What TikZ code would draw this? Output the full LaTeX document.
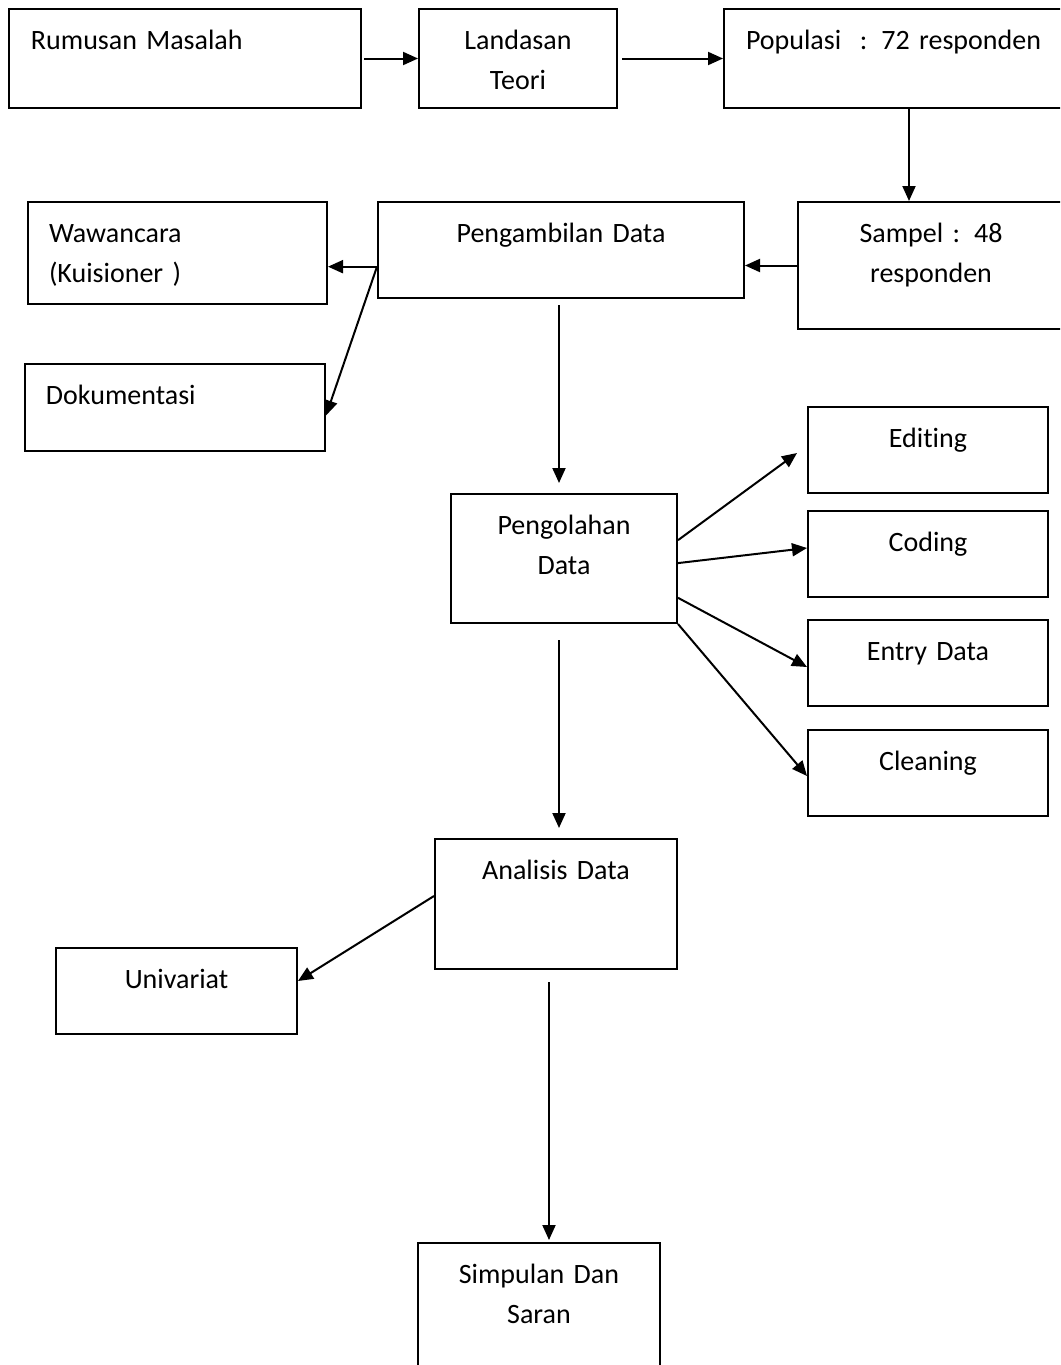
\documentclass[tikz,border=0pt]{standalone}
\usepackage{fontspec}
\setmainfont{Carlito}[Ligatures=NoCommon]
\usetikzlibrary{arrows.meta,calc}

\begin{document}
\begin{tikzpicture}[x=0.5pt, y=-0.5pt,
  box/.style={draw=black, line width=1pt, anchor=north west, inner ysep=0pt, text height=20pt, font=\fontsize{14}{20}\selectfont},
  lbox/.style={box, align=left, inner xsep=11pt},
  cbox/.style={box, align=center, inner xsep=0pt},
  arr/.style={-{Triangle[length=7.5pt, width=6.5pt]}, line width=1pt},
]

% Page frame
\useasboundingbox (0,0) rectangle (1060,1365);
\clip (0,0) rectangle (1060,1365);

% Top row
\node[lbox, text width=154pt, text depth=29.5pt] (rm) at (8,8) {Rumusan Masalah};
\node[cbox, text width=99pt, text depth=29.5pt] (lt) at (418,8) {Landasan\\Teori};
\node[lbox, text width=163pt, text depth=29.5pt] (pop) at (723,8) {Populasi~~: 72 responden};

% Data collection
\node[cbox, text width=133pt, text depth=43.5pt] (sam) at (797,201) {Sampel : 48\\responden};
\node[cbox, text width=183pt, text depth=28pt] (pa) at (377,201) {Pengambilan Data};
\node[lbox, inner xsep=10.5pt, text width=128.5pt, text depth=31pt] (ww) at (27,201) {Wawancara\\(Kuisioner )};
\node[lbox, inner xsep=10.5pt, text width=129pt, text depth=23.5pt] (dok) at (24,363) {Dokumentasi};

% Processing
\node[cbox, text width=113pt, text depth=44.5pt] (pd) at (450,493) {Pengolahan\\Data};
\node[cbox, text width=120pt, text depth=23pt] (ed) at (807,406) {Editing};
\node[cbox, text width=120pt, text depth=23pt] (cd) at (807,510) {Coding};
\node[cbox, text width=120pt, text depth=23pt] (en) at (807,619) {Entry Data};
\node[cbox, text width=120pt, text depth=23pt] (cl) at (807,729) {Cleaning};

% Analysis
\node[cbox, text width=121pt, text depth=45pt] (an) at (434,838) {Analisis Data};
\node[cbox, text width=120.5pt, text depth=23pt] (uv) at (55,947) {Univariat};
\node[cbox, text width=121pt, text depth=55pt] (sp) at (417,1242) {Simpulan Dan\\Saran};

% Helper points
\coordinate (pa-out) at ($(pa.south west)!0.33!(pa.north west)$);
\coordinate (pa-dn) at ($(pa.south)+(-2,0)$);
\coordinate (pd-dn) at ($(pd.south)+(-5,0)$);
\coordinate (an-dn) at ($(an.south)+(-7,0)$);

% Arrows
\draw[arr, shorten <=1pt] (rm.east) -- (lt.west);
\draw[arr, shorten <=2pt] (lt.east) -- (pop.west);
\draw[arr] (pop.south) -- (pop.south |- sam.north);
\draw[arr] (sam.west) -- (sam.west -| pa.east);
\draw[arr] (pa-out) -- (pa-out -| ww.east);
\draw[arr] (pa-out) -- ($(dok.east)+(0,8)$);
\draw[arr, shorten <=3pt, shorten >=5pt] (pa-dn) -- (pa-dn |- pd.north);
\draw[arr] ($(pd.north east)!0.36!(pd.south east)$) -- ($(ed.west)+(-10,3)$);
\draw[arr] ($(pd.north east)!0.535!(pd.south east)$) -- ($(cd.west)+(0,-6)$);
\draw[arr] ($(pd.north east)!0.8!(pd.south east)$) -- ($(en.west)+(0,4)$);
\draw[arr] (pd.south east) -- ($(cl.west)+(0,3)$);
\draw[arr, shorten <=8pt, shorten >=5pt] (pd-dn) -- (pd-dn |- an.north);
\draw[arr] ($(an.west)+(0,-8)$) -- ($(uv.east)+(0,-10)$);
\draw[arr, shorten <=6pt, shorten >=1pt] (an-dn) -- (an-dn |- sp.north);

\end{tikzpicture}
\end{document}
